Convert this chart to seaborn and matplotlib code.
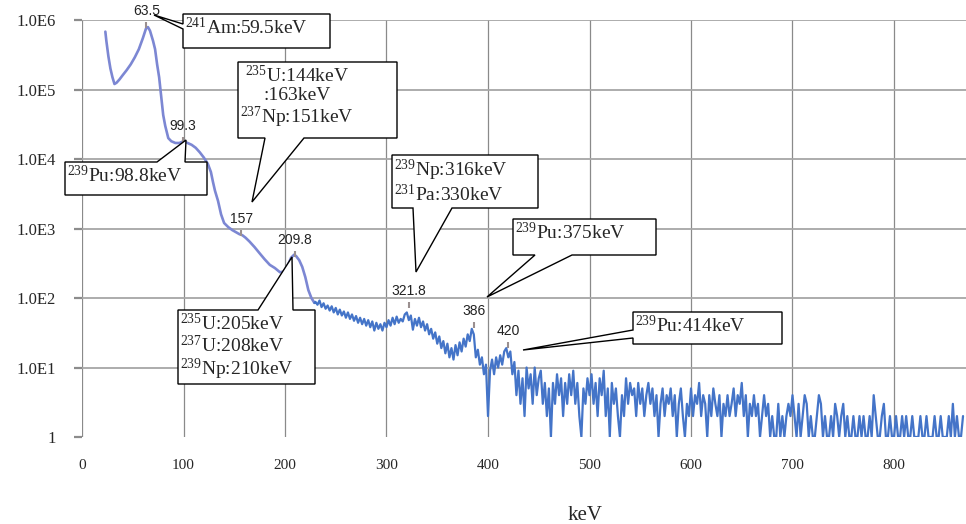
import pandas as pd
import matplotlib
matplotlib.use('Agg')
import matplotlib.pyplot as plt
import seaborn as sns
from matplotlib.patches import Polygon

# low energy part of the spectrum
low_kev = [23, 24, 26, 28, 30, 32, 34, 37, 40, 44, 48, 52, 56, 60, 63, 65, 67, 70, 72, 74,
           76, 78, 80, 82, 85, 88, 92, 96, 100, 104, 108, 112, 116, 120, 124, 127, 129, 131, 134, 137,
           140, 144, 148, 152, 155, 158, 161, 165, 170, 175, 180, 185, 190, 195, 199, 203, 206, 209, 211, 214,
           217, 220, 223, 226, 229]
low_counts = [680000, 500000, 300000, 200000, 150000, 120000, 125000, 140000, 160000, 190000,
              230000, 290000, 380000, 550000, 750000, 790000, 700000, 500000, 380000, 230000,
              150000, 80000, 43000, 30000, 20000, 18000, 17000, 17000, 18000, 17000,
              16000, 14500, 12500, 10500, 8500, 6500, 4700, 3500, 2500, 1600,
              1200, 1050, 950, 880, 830, 800, 740, 650, 540, 440,
              360, 300, 270, 235, 240, 300, 380, 420, 400, 350,
              280, 200, 130, 100, 85]

# noisy part, 2 keV channels from 230 keV
high_kev = list(range(230, 870, 2))
high_counts = [88, 80, 92, 74, 84, 70, 78, 66, 76, 62,
               72, 58, 68, 56, 64, 52, 62, 50, 58, 47,
               55, 44, 52, 42, 50, 40, 48, 38, 46, 34,
               44, 36, 42, 34, 44,
               38, 48, 40, 52, 42, 54, 44, 50, 46, 58,
               62, 48, 56, 35, 50, 40, 52, 38, 46, 34,
               42, 30, 36, 26, 32, 22, 28, 19, 24, 16,
               22, 14, 19, 13, 21, 15, 23, 17, 26, 20,
               30, 24, 36, 30, 14, 18, 11, 14, 8, 11,
               2, 9, 13, 8, 14, 10, 15, 11, 17, 19,
               14, 17, 8, 12, 4, 9, 3, 7, 2, 10,
               5, 8, 3, 10, 4, 7, 9, 3, 6, 2,
               5, 1, 6, 3, 8, 4, 7, 2, 6, 3,
               8, 4, 9, 3, 6, 2, 1, 5, 3, 7,
               4, 8, 3, 6, 2, 7, 4, 9, 2, 5,
               1, 6, 3, 5, 2, 1, 4, 2, 7, 3,
               6, 4, 5, 2, 6, 3, 5, 2, 4, 6,
               3, 5, 2, 4, 1, 3, 5, 2, 4, 3,
               5, 2, 4, 1, 3, 5, 2, 1, 3, 2,
               5, 2, 4, 3, 6, 2, 4, 3, 1, 4,
               2, 5, 3, 2, 4, 1, 3, 2, 4, 2,
               3, 5, 2, 4, 3, 6, 2, 4, 1, 3,
               2, 4, 2, 3, 1, 2, 4, 2, 3, 1,
               2, 1, 1, 3, 1, 2, 1, 2, 3, 2,
               4, 2, 1, 3, 1, 2, 4, 3, 1, 2,
               1, 1, 2, 4, 3, 1, 2, 1, 1, 2,
               1, 3, 2, 1, 2, 3, 1, 2, 1, 1,
               2, 1, 1, 2, 1, 2, 1, 1, 2, 1,
               4, 2, 1, 1, 2, 3, 1, 1, 2, 1,
               1, 2, 1, 1, 2, 1, 2, 1, 1, 2,
               1, 1, 1, 2, 1, 1, 2, 1, 1, 1,
               2, 1, 1, 2, 1, 1, 1, 2, 1, 3,
               1, 2, 1, 1, 2]

peak_kev = [63.5, 99.3, 157, 209.8, 321.8, 386, 420]
peak_counts = [850000, 19000, 860, 430, 80, 41, 21]
peak_labels = ['63.5', '99.3', '157', '209.8', '321.8', '386', '420']

y_ticks = [1, 10, 100, 1000, 10000, 100000, 1000000]
y_ticklabels = ['1', '1.0E1', '1.0E2', '1.0E3', '1.0E4', '1.0E5', '1.0E6']
x_ticks = [0, 100, 200, 300, 400, 500, 600, 700, 800]

# callout boxes: text, box (left, top, right, bottom) px, side, wedge base, tip (px)
callouts = [
    ('$^{241}$Am:59.5keV', (183, 14, 330, 48), 'left', (24, 29), (154, 15), 'left'),
    ('$^{235}$U:144keV\n:163keV\n$^{237}$Np:151keV', (238, 62, 397, 138), 'bottom', (265, 304), (252, 202), 'center'),
    ('$^{239}$Pu:98.8keV', (65, 162, 207, 195), 'top', (157, 185), (186, 140), 'left'),
    ('$^{239}$Np:316keV\n$^{231}$Pa:330keV', (392, 155, 538, 208), 'bottom', (413, 452), (416, 272), 'left'),
    ('$^{239}$Pu:375keV', (513, 219, 656, 255), 'bottom', (535, 572), (487, 297), 'left'),
    ('$^{239}$Pu:414keV', (633, 312, 782, 344), 'left', (330, 338), (523, 350), 'left'),
    ('$^{235}$U:205keV\n$^{237}$U:208keV\n$^{239}$Np:210keV', (178, 310, 315, 384), 'top', (258, 293), (292, 257), 'left'),
]

W, H = 966, 524
AX_L, AX_R, AX_T, AX_B = 82, 966, 20, 437


def px(x, y):
    '''pixel position -> axes fraction'''
    return ((x - AX_L) / (AX_R - AX_L), (AX_B - y) / (AX_B - AX_T))


def callout_points(box, side, base, tip):
    x0, y0, x1, y1 = box
    b0, b1 = base
    if side == 'left':
        pts = [(x0, y0), (x1, y0), (x1, y1), (x0, y1), (x0, b1), tip, (x0, b0)]
    elif side == 'top':
        pts = [(x0, y0), (x0, y1), (x1, y1), (x1, y0), (b1, y0), tip, (b0, y0)]
    else:
        pts = [(x0, y0), (x1, y0), (x1, y1), (b1, y1), tip, (b0, y1), (x0, y1)]
    return [px(*p) for p in pts]


sns.set_theme(style='white')
plt.rcParams['font.family'] = ['Liberation Serif', 'DejaVu Serif']
plt.rcParams['mathtext.fontset'] = 'custom'
plt.rcParams['mathtext.rm'] = 'Liberation Serif'
plt.rcParams['mathtext.it'] = 'Liberation Serif:italic'
plt.rcParams['mathtext.bf'] = 'Liberation Serif:bold'

low = pd.DataFrame({'keV': low_kev, 'counts': low_counts})
noisy = pd.DataFrame({'keV': [low_kev[-1]] + high_kev,
                      'counts': [low_counts[-1]] + high_counts})

fig = plt.figure(figsize=(W / 100, H / 100), dpi=100)
ax = fig.add_axes([AX_L / W, 1 - AX_B / H, (AX_R - AX_L) / W, (AX_B - AX_T) / H])

sns.lineplot(data=low, x='keV', y='counts', ax=ax, color='#7c87d3', lw=1.9,
             estimator=None, sort=False, zorder=3)
sns.lineplot(data=noisy, x='keV', y='counts', ax=ax, color='#4474c8', lw=1.6,
             estimator=None, sort=False, zorder=3)

ax.set_yscale('log')
ax.set_xlim(0, (AX_R - AX_L) / 1.015)
ax.set_ylim(1, 1e6)
ax.set_yticks(y_ticks)
ax.set_yticklabels(y_ticklabels)
ax.minorticks_off()
ax.set_xticks(x_ticks)
ax.set_xticklabels([str(t) for t in x_ticks])
ax.tick_params(axis='y', length=6, width=1.6, color='#8c8c8c', pad=13, labelsize=12, left=True)
ax.tick_params(axis='x', length=0, pad=16, labelsize=11)
for s in ax.spines.values():
    s.set_visible(False)

ax.grid(axis='y', color='#a6a6a6', lw=1.3)
ax.grid(axis='x', color='#8a8a8a', lw=0.9)
ax.yaxis.get_gridlines()[0].set_visible(False)
ax.set_xlabel('')
ax.set_ylabel('')
fig.text(585 / W, 1 - 515 / H, 'keV', ha='center', va='center', fontsize=15)

# peak markers and labels
for k, c, lab in zip(peak_kev, peak_counts, peak_labels):
    ax.plot([k], [c], marker='|', ms=5, mew=1.5, color='#9a8f8f', zorder=4)
    ax.annotate(lab, (k, c), xytext=(0, 5), textcoords='offset points', ha='center', va='bottom',
                fontsize=10, family=['Liberation Sans', 'DejaVu Sans'], color='#222222',
                annotation_clip=False, zorder=6)

for text, box, side, base, tip, align in callouts:
    poly = Polygon(callout_points(box, side, base, tip), closed=True, facecolor='white',
                   edgecolor='black', lw=1.0, transform=ax.transAxes, clip_on=False, zorder=7)
    ax.add_patch(poly)
    tx, ty = px(box[0] + 2, box[1] + 3)
    ax.text(tx, ty, text, transform=ax.transAxes, ha='left', va='top', fontsize=14,
            linespacing=1.05, multialignment=align, zorder=8, clip_on=False)

fig.savefig('out.png', dpi=100)
